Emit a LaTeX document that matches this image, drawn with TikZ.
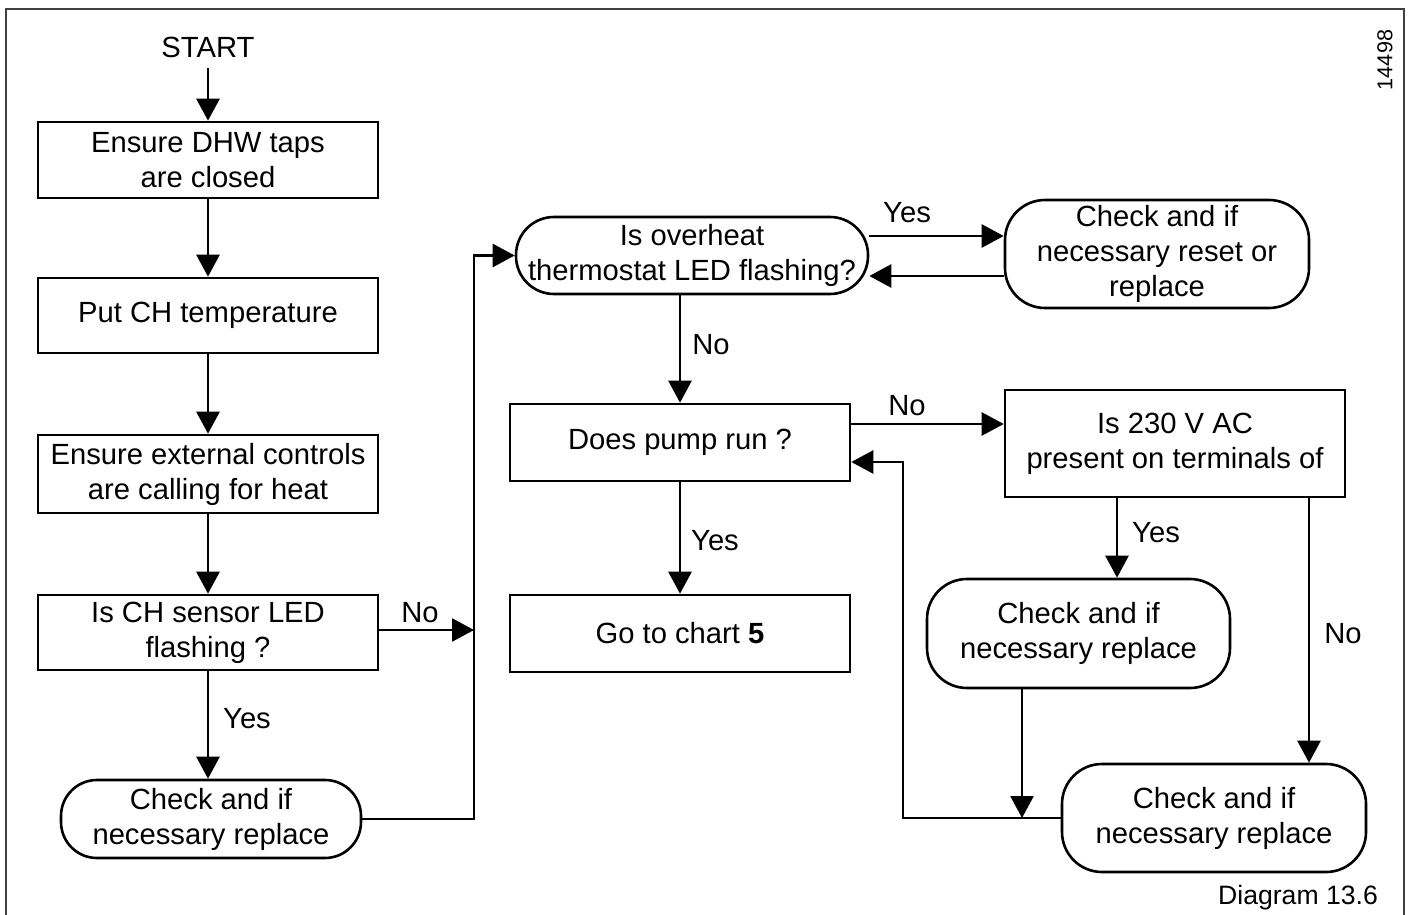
\documentclass[tikz,border=0pt]{standalone}
\usepackage{fontspec}
\setmainfont{Liberation Sans}
\usetikzlibrary{arrows.meta}
\begin{document}
\begin{tikzpicture}[x=0.5pt,y=-0.5pt,
  every node/.style={font=\fontsize{14.6pt}{17.5pt}\selectfont},
  box/.style={draw,line width=1.3pt,inner sep=0pt,align=center},
  rbox/.style={box,rounded corners=18pt},
  lbl/.style={inner sep=0pt},
  conn/.style={line width=1.3pt},
  arr/.style={conn,-{Triangle[length=11pt,width=11.5pt]}}]
\useasboundingbox (0,0) rectangle (1411,914);
\draw[line width=1pt,black!75] (6,920) -- (6,9) -- (1404,9) -- (1404,920);
\node[lbl] (start) at (208,47) {START};
\node[box,minimum width=170pt,minimum height=38pt] (b1) at (208,160) {Ensure DHW taps\\are closed};
\node[box,minimum width=170pt,minimum height=37.5pt] (b2) at (208,315.5) {Put CH temperature};
\node[box,minimum width=170pt,minimum height=39pt] (b3) at (208,474) {Ensure external controls\\are calling for heat};
\node[box,minimum width=170pt,minimum height=37.5pt] (b4) at (208,632.5) {Is CH sensor LED\\flashing ?};
\node[rbox,minimum width=150pt,minimum height=39pt] (r5) at (211,819) {Check and if\\necessary replace};
\node[rbox,rounded corners=19pt,minimum width=176pt,minimum height=38.5pt] (r6) at (692,255.5) {Is overheat\\thermostat LED flashing?};
\node[rbox,rounded corners=20pt,minimum width=152pt,minimum height=54pt] (r7) at (1157,254) {Check and if\\necessary reset or\\replace};
\node[box,minimum width=170pt,minimum height=38.5pt] (b8) at (680,442.5) {Does pump run ?};
\node[box,minimum width=170pt,minimum height=53.5pt] (b9) at (1175,443.5) {Is 230 V AC\\present on terminals of};
\node[rbox,rounded corners=20pt,minimum width=151.5pt,minimum height=54.5pt] (r10) at (1078.5,633.5) {Check and if\\necessary replace};
\node[rbox,rounded corners=20pt,minimum width=152pt,minimum height=54pt] (r11) at (1214,818) {Check and if\\necessary replace};
\node[box,minimum width=170pt,minimum height=38.5pt] (b12) at (680,633.5) {Go to chart \textbf{5}};
% labels
\node[lbl] (l1) at (247,719) {Yes};
\node[lbl] (l2) at (420,613) {No};
\node[lbl] (l3) at (907,213) {Yes};
\node[lbl] (l4) at (711,345) {No};
\node[lbl] (l5) at (907,406) {No};
\node[lbl] (l6) at (715,541) {Yes};
\node[lbl] (l7) at (1156,533) {Yes};
\node[lbl] (l8) at (1343,634) {No};
\node[lbl,rotate=90,font=\fontsize{10.8pt}{13pt}\selectfont] (num) at (1385,60) {14498};
\node[lbl,font=\fontsize{13.3pt}{16pt}\selectfont] (cap) at (1298,898) {Diagram 13.6};
% coordinates
\coordinate (jmid) at (474,630);
\coordinate (jtop) at (474,255.5);
\coordinate (k) at (903,462);
% connectors
\draw[arr] (208,68) -- (b1.north);
\draw[arr] (b1) -- (b2);
\draw[arr] (b2) -- (b3);
\draw[arr] (b3) -- (b4);
\draw[arr] (b4) -- (b4 |- r5.north);
\draw[arr] (b4.east |- jmid) -- (jmid);
\draw[arr] (r5.east) -| (jtop) -- (r6.west);
\draw[arr] (r6.east |- 0,236) -- (r7.west |- 0,236);
\draw[arr] (r7.west |- 0,276) -- (r6.east |- 0,276);
\draw[arr] (b8.north |- r6.south) -- (b8.north);
\draw[arr] (b8.east |- 0,424) -- (b9.west |- 0,424);
\draw[arr] (b8) -- (b12);
\draw[arr] (1117,0 |- b9.south) -- (1117,0 |- r10.north);
\draw[arr] (1309,0 |- b9.south) -- (1309,0 |- r11.north);
\draw[arr] (1022,0 |- r10.south) -- (1022,0 |- r11.west);
\draw[arr] (r11.west) -| (k) -- (b8.east |- k);
\end{tikzpicture}
\end{document}
